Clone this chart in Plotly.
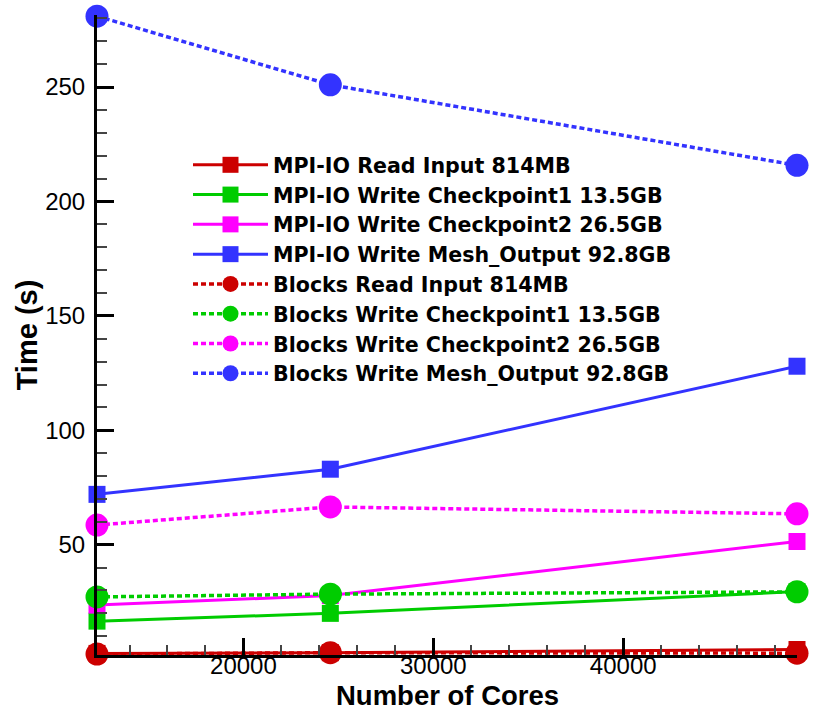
import plotly.graph_objects as go

cores = [12288, 24576, 49152]

names = [
    "MPI-IO Read Input 814MB",
    "MPI-IO Write Checkpoint1 13.5GB",
    "MPI-IO Write Checkpoint2 26.5GB",
    "MPI-IO Write Mesh_Output 92.8GB",
    "Blocks Read Input 814MB",
    "Blocks Write Checkpoint1 13.5GB",
    "Blocks Write Checkpoint2 26.5GB",
    "Blocks Write Mesh_Output 92.8GB",
]

mpiio_read = [2.5, 2.8, 4.2]
mpiio_chk1 = [16.6, 20.0, 29.5]
mpiio_chk2 = [23.6, 27.8, 51.4]
mpiio_mesh = [72.0, 83.0, 128.0]
blocks_read = [2.2, 2.8, 2.6]
blocks_chk1 = [27.2, 28.4, 29.4]
blocks_chk2 = [58.6, 66.5, 63.5]
blocks_mesh = [281.0, 251.0, 215.8]

x_title = "Number of Cores"
y_title = "Time (s)"

series = [mpiio_read, mpiio_chk1, mpiio_chk2, mpiio_mesh,
          blocks_read, blocks_chk1, blocks_chk2, blocks_mesh]
colors = ["#cc0000", "#00cc00", "#ff00ff", "#3333ff"] * 2

fig = go.Figure()
for i, (nm, ys) in enumerate(zip(names, series)):
    mpi = i < 4
    fig.add_trace(go.Scatter(
        x=cores, y=ys, name=nm, mode="lines+markers",
        line=dict(color=colors[i], width=3 if mpi else 3.5,
                  dash="solid" if mpi else "5px,3px"),
        marker=dict(symbol="square" if mpi else "circle",
                    size=17 if mpi else 23, color=colors[i],
                    line=dict(width=0)),
        cliponaxis=False,
    ))

axis_font = dict(family="Liberation Sans, Arial, sans-serif", size=24, color="black")
title_font = dict(family="Liberation Sans, Arial, sans-serif", size=29, color="black", weight="bold")

fig.update_layout(
    width=817, height=712,
    margin=dict(l=97, r=20, t=15, b=57, autoexpand=False),
    plot_bgcolor="white", paper_bgcolor="white",
    font=axis_font,
    showlegend=True,
    legend=dict(
        x=(188 - 97) / 700, y=0.797, xanchor="left", yanchor="top",
        bgcolor="rgba(0,0,0,0)",
        font=dict(family="DejaVu Sans, sans-serif", size=20.6, color="black", weight="bold"),
        itemwidth=75,
        tracegroupgap=0,
    ),
    xaxis=dict(
        range=[12288, 49152], showgrid=False, zeroline=False, automargin=False,
        showline=True, linecolor="black", linewidth=3,
        ticks="inside", ticklen=17, tickwidth=3, tickcolor="black",
        tick0=0, dtick=10000, tickformat="d",
        tickfont=axis_font, ticklabelstandoff=-13,
        minor=dict(ticks="inside", ticklen=10, tickwidth=1.5, tickcolor="#444", dtick=2000, tick0=0, showgrid=False),
    ),
    yaxis=dict(
        range=[1.8, 281.5], showgrid=False, zeroline=False, automargin=False,
        showline=True, linecolor="black", linewidth=3,
        ticks="inside", ticklen=17, tickwidth=3, tickcolor="black",
        tick0=0, dtick=50,
        tickfont=axis_font, ticklabelstandoff=4,
        minor=dict(ticks="inside", ticklen=10, tickwidth=1.5, tickcolor="#444", dtick=10, tick0=0, showgrid=False),
        title=dict(text=y_title, font=title_font, standoff=0),
    ),
    annotations=[dict(
        text=x_title, font=dict(family="Liberation Sans, Arial, sans-serif", size=27.5, color="black", weight="bold"),
        xref="paper", yref="paper", x=0.5, y=(655 - 712) / 640,
        xanchor="center", yanchor="bottom", showarrow=False, borderpad=0,
    )],
)

fig.write_html("out.html")
